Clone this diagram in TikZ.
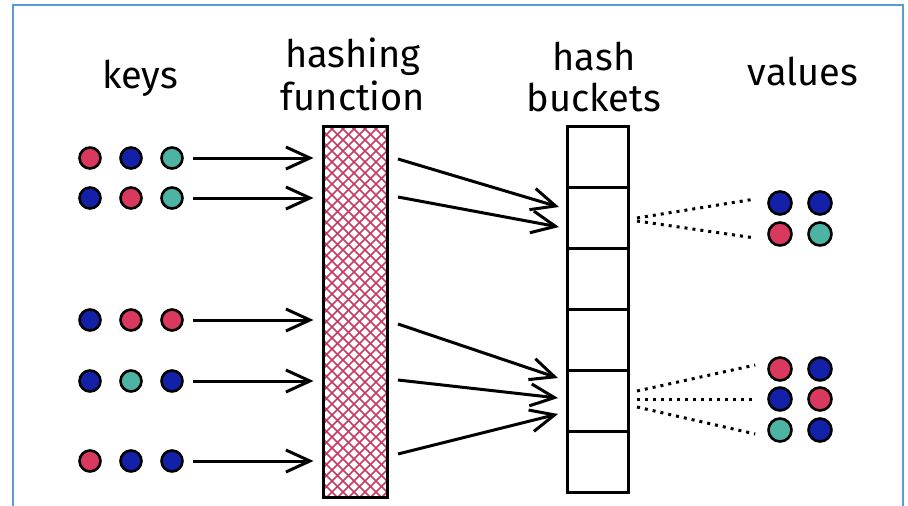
\documentclass[tikz,border=0pt]{standalone}
\usepackage{fontspec}
\setmainfont{Fira Sans}
\usetikzlibrary{arrows.meta}
\definecolor{kred}{HTML}{D9395F}
\definecolor{kblue}{HTML}{1320A8}
\definecolor{kteal}{HTML}{4DB3A3}
\definecolor{frameblue}{HTML}{5B9BD5}
\definecolor{hatchc}{HTML}{C83A62}
\begin{document}
\begin{tikzpicture}[x=1pt,y=-1pt,
 dot/.style={circle,draw=black,line width=2.6pt,minimum size=21pt,inner sep=0pt},
 vdot/.style={dot,minimum size=23pt},
 title/.style={font=\fontsize{38}{42}\selectfont,anchor=base},
 arr/.style={line width=3pt,-{Straight Barb[length=24pt,width=22pt,line width=3pt]}},
 dotline/.style={line width=3pt,dash pattern=on 3pt off 5pt},
 bucket/.style={draw,line width=3pt,minimum width=61pt,minimum height=61pt,inner sep=0pt},
]
\useasboundingbox (0,0) rectangle (908,506);
\draw[frameblue,line width=2.5pt] (13,506) -- (13,5) -- (903,5) -- (903,506);

% titles
\node[title] (tkeys) at (140,88) {keys};
\node[title] (thash1) at (353,67) {hashing};
\node[title] (thash2) at (353,110) {function};
\node[title] (tb1) at (594,70) {hash};
\node[title] (tb2) at (594,111) {buckets};
\node[title] (tval) at (803,85) {values};

% hashing function
\begin{scope}
\clip (323,126) rectangle (387,497);
\foreach \i in {-390,-379,...,80} {\draw[hatchc,line width=1.5pt] (323+\i,126) -- ++(400,400);}
\foreach \i in {-10,1,...,460} {\draw[hatchc,line width=1.5pt] (323+\i,126) -- ++(-400,400);}
\end{scope}
\node[draw,line width=3pt,minimum width=64pt,minimum height=371pt,inner sep=0pt] (hf) at (355,311.5) {};

% buckets
\foreach \j in {1,...,6} {\node[bucket] (b\j) at (597.5,95.5+61*\j) {};}

% keys
\node[dot,fill=kred]  (k11) at (90,158) {};
\node[dot,fill=kblue] (k12) at (131,158) {};
\node[dot,fill=kteal] (k13) at (172,158) {};
\node[dot,fill=kblue] (k21) at (90,198) {};
\node[dot,fill=kred]  (k22) at (131,198) {};
\node[dot,fill=kteal] (k23) at (172,198) {};
\node[dot,fill=kblue] (k31) at (90,320) {};
\node[dot,fill=kred]  (k32) at (131,320) {};
\node[dot,fill=kred]  (k33) at (172,320) {};
\node[dot,fill=kblue] (k41) at (90,381) {};
\node[dot,fill=kteal] (k42) at (131,381) {};
\node[dot,fill=kblue] (k43) at (172,381) {};
\node[dot,fill=kred]  (k51) at (90,461) {};
\node[dot,fill=kblue] (k52) at (131,461) {};
\node[dot,fill=kblue] (k53) at (172,461) {};

\foreach \r in {1,...,5} {\draw[arr,shorten <=9pt,shorten >=8pt] (k\r3.east) -- (k\r3.east -| hf.west);}

% arrows to buckets
\coordinate (s1) at (398,159);
\coordinate (s2) at (398,197);
\coordinate (s3) at (398,324);
\coordinate (s4) at (398,380);
\coordinate (s5) at (398,454);
\coordinate (e1) at (559,207);
\coordinate (e2) at (559,227);
\coordinate (e3) at (558,378);
\coordinate (e4) at (558,398);
\coordinate (e5) at (558,414);
\foreach \r in {1,...,5} {\draw[arr] (s\r) -- (e\r);}

% values
\node[vdot,fill=kblue] (v11) at (780,203) {};
\node[vdot,fill=kblue] (v12) at (820,203) {};
\node[vdot,fill=kred]  (v21) at (780,234) {};
\node[vdot,fill=kteal] (v22) at (820,234) {};
\node[vdot,fill=kred]  (v31) at (780,369) {};
\node[vdot,fill=kblue] (v32) at (820,369) {};
\node[vdot,fill=kblue] (v41) at (780,399) {};
\node[vdot,fill=kred]  (v42) at (820,399) {};
\node[vdot,fill=kteal] (v51) at (780,430) {};
\node[vdot,fill=kblue] (v52) at (820,430) {};

% dotted links
\coordinate (d1) at (637,218);
\coordinate (d2) at (637,221);
\coordinate (d3) at (637,391);
\coordinate (d4) at (637,399);
\coordinate (d5) at (637,407);
\draw[dotline] (d1) -- ([xshift=-12pt,yshift=4pt]v11.west);
\draw[dotline] (d2) -- ([xshift=-12pt,yshift=-4pt]v21.west);
\draw[dotline] (d3) -- ([xshift=-12pt,yshift=4pt]v31.west);
\draw[dotline] (d4) -- ([xshift=-12pt]v41.west);
\draw[dotline] (d5) -- ([xshift=-12pt,yshift=-4pt]v51.west);
\end{tikzpicture}
\end{document}
